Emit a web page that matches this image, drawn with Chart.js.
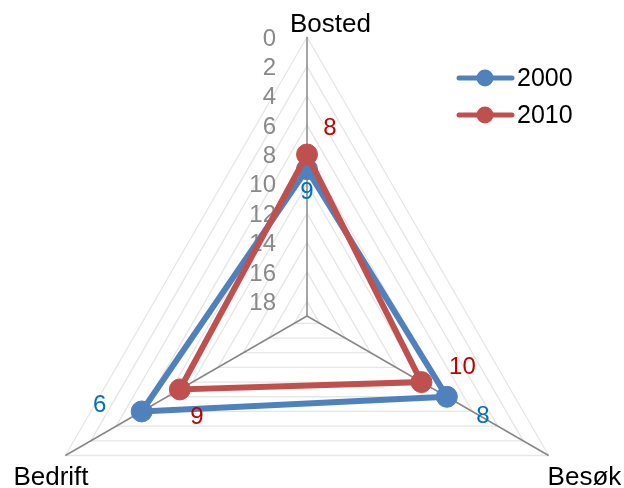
<!DOCTYPE html>
<html>
<head>
<meta charset="utf-8">
<script src="https://cdn.jsdelivr.net/npm/chart.js@4/dist/chart.umd.min.js"></script>
<style>
  html, body { margin: 0; padding: 0; background: #fff; }
  #wrap { width: 624px; height: 488px; }
</style>
</head>
<body>
<div id="wrap"><canvas id="radar" width="624" height="488"></canvas></div>
<script>
const categories = ["Bosted", "Besøk", "Bedrift"];
const seriesNames = ["2000", "2010"];
const values2000 = [9, 8, 6];
const values2010 = [8, 10, 9];
const scaleMin = 0;
const scaleMax = 19;
const tickStep = 2;

const FONT = "'Liberation Sans', Arial, sans-serif";
const BLUE = "#4F81BD";
const RED = "#C0504D";
const LABEL_BLUE = "#0070C0";
const LABEL_RED = "#C00000";

// plot geometry (the triangle runs past the canvas height, so set it by hand)
const CENTER_X = 307;
const CENTER_Y = 316;
const RADIUS = 279;

// where each value label sits relative to its point
const labelOffsets = [
  [[0, 23], [36, 20], [-42, -6]],
  [[23, -26], [41, -15], [17, 28]],
];
// category label placement relative to the end of each axis
const catLabelOffsets = [
  { dx: -17, dy: -12, align: "left" },
  { dx: -1, dy: 22, align: "left" },
  { dx: -52, dy: 22, align: "left" },
];

const decorPlugin = {
  id: "decor",
  beforeDatasetsDraw(chart) {
    const ctx = chart.ctx;
    const scale = chart.scales.r;
    ctx.save();
    // tick labels, left of the vertical axis
    ctx.font = "24px " + FONT;
    ctx.fillStyle = "#898989";
    ctx.textAlign = "right";
    ctx.textBaseline = "middle";
    scale.ticks.forEach((t) => {
      if (t.value === scaleMax) return;
      const p = scale.getPointPositionForValue(0, t.value);
      ctx.fillText(String(t.value), p.x - 31, p.y + 2);
    });
    // category labels
    ctx.font = "26px " + FONT;
    ctx.fillStyle = "#000";
    categories.forEach((c, i) => {
      const p = scale.getPointPositionForValue(i, scaleMin);
      const o = catLabelOffsets[i];
      ctx.textAlign = o.align;
      ctx.fillText(c, p.x + o.dx, p.y + o.dy);
    });
    ctx.restore();
  },
  afterDatasetsDraw(chart) {
    const ctx = chart.ctx;
    ctx.save();
    ctx.font = "24px " + FONT;
    ctx.textAlign = "center";
    ctx.textBaseline = "middle";
    const labelColors = [LABEL_BLUE, LABEL_RED];
    chart.data.datasets.forEach((ds, di) => {
      const meta = chart.getDatasetMeta(di);
      ctx.fillStyle = labelColors[di];
      meta.data.forEach((pt, i) => {
        const o = labelOffsets[di][i];
        ctx.fillText(String(ds.data[i]), pt.x + o[0], pt.y + o[1]);
      });
    });
    // legend
    const legendY = [78, 115];
    ctx.font = "25px " + FONT;
    chart.data.datasets.forEach((ds, di) => {
      const y = legendY[di];
      ctx.strokeStyle = ds.borderColor;
      ctx.lineWidth = 5;
      ctx.lineCap = "round";
      ctx.beginPath();
      ctx.moveTo(459, y);
      ctx.lineTo(512, y);
      ctx.stroke();
      ctx.fillStyle = ds.borderColor;
      ctx.beginPath();
      ctx.arc(485, y, 8.5, 0, Math.PI * 2);
      ctx.fill();
      ctx.fillStyle = "#000";
      ctx.textAlign = "left";
      ctx.fillText(ds.label, 517, y + 1);
    });
    ctx.restore();
  },
};

new Chart(document.getElementById("radar"), {
  type: "radar",
  data: {
    labels: categories,
    datasets: [
      {
        label: seriesNames[0],
        data: values2000,
        borderColor: BLUE,
        backgroundColor: BLUE,
        pointBackgroundColor: BLUE,
        pointBorderColor: BLUE,
        borderWidth: 6,
        pointRadius: 10.5,
        pointBorderWidth: 1,
        fill: false,
        order: 1,
      },
      {
        label: seriesNames[1],
        data: values2010,
        borderColor: RED,
        backgroundColor: RED,
        pointBackgroundColor: RED,
        pointBorderColor: RED,
        borderWidth: 6,
        pointRadius: 10.5,
        pointBorderWidth: 1,
        fill: false,
        order: 0,
      },
    ],
  },
  options: {
    responsive: false,
    animation: false,
    elements: { line: { tension: 0, borderJoinStyle: "miter" } },
    plugins: { legend: { display: false }, tooltip: { enabled: false } },
    scales: {
      r: {
        min: scaleMin,
        max: scaleMax,
        reverse: true,
        startAngle: 0,
        ticks: { stepSize: tickStep, reverse: true, display: false },
        pointLabels: { display: false },
        grid: { color: "#e6e6e6", lineWidth: 1.3 },
        angleLines: { color: "#878787", lineWidth: 1.5 },
        afterFit(scale) {
          scale.xCenter = CENTER_X;
          scale.yCenter = CENTER_Y;
          scale.drawingArea = RADIUS;
        },
      },
    },
  },
  plugins: [decorPlugin],
});
</script>
</body>
</html>
